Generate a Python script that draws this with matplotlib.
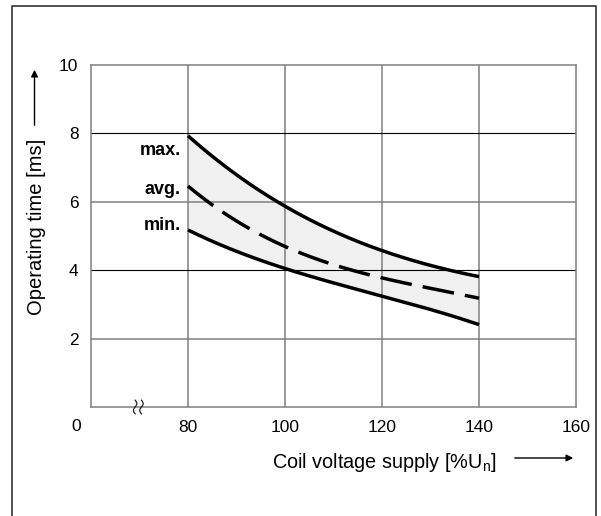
import matplotlib
matplotlib.use("Agg")
import matplotlib.pyplot as plt
import numpy as np
from matplotlib.lines import Line2D
import matplotlib.transforms as mtransforms

plt.rcParams['font.family'] = ['Liberation Sans', 'DejaVu Sans']
plt.rcParams['lines.scale_dashes'] = False

voltage = [80, 90, 100, 110, 120, 130, 140]
t_max = [7.91, 6.84, 5.86, 5.09, 4.60, 4.16, 3.80]
t_avg = [6.43, 5.52, 4.65, 4.11, 3.82, 3.48, 3.17]
t_min = [5.18, 4.54, 4.06, 3.63, 3.24, 2.85, 2.41]
x_ticks = [80, 100, 120, 140, 160]
y_ticks = [2, 4, 6, 8, 10]

W, H = 601, 516
fig = plt.figure(figsize=(W/100, H/100), dpi=100)
ax = fig.add_axes([91/W, 1-407/H, (576-91)/W, (407-65)/H])
ax.set_xlim(60, 160)
ax.set_ylim(0, 10)

# smooth curves through read points
def smooth(x, y, n=200):
    x = np.asarray(x, float); y = np.asarray(y, float)
    c = np.polyfit(x, y, 3)
    xs = np.linspace(x[0], x[-1], n)
    return xs, np.polyval(c, xs)

xs, ymax = smooth(voltage, t_max)
_, yavg = smooth(voltage, t_avg)
_, ymin = smooth(voltage, t_min)

ax.fill_between(xs, ymin, ymax, color='#f0f0f0', zorder=1, lw=0)

grey = '#808080'
for xv in x_ticks[:-1]:
    ax.axvline(xv, color=grey, lw=1.1, zorder=2)
for yv in [2, 6]:
    ax.axhline(yv, color=grey, lw=1.1, zorder=2)
for yv in [4, 8]:
    ax.axhline(yv, color='black', lw=0.8, zorder=2)

ax.plot(xs, ymax, color='black', lw=2.5, zorder=4, solid_capstyle='butt')
ax.plot(xs, ymin, color='black', lw=2.5, zorder=4, solid_capstyle='butt')
ax.plot(xs, yavg, color='black', lw=2.5, zorder=4, dashes=(23, 8), dash_capstyle='butt')

for sp in ax.spines.values():
    sp.set_color(grey)
    sp.set_linewidth(1.1)

ax.set_xticks(x_ticks)
ax.set_xticklabels([str(v) for v in x_ticks])
ax.set_yticks(y_ticks)
ax.set_yticklabels([str(v) for v in y_ticks])
ax.tick_params(length=0, labelsize=12.5, pad=9)

ax.text(-0.02, -0.035, '0', transform=ax.transAxes, ha='right', va='top', fontsize=12.5)

lab_kw = dict(ha='right', va='center', fontsize=13, fontweight='bold')
ax.text(78.5, 7.5, 'max.', **lab_kw)
ax.text(78.5, 6.37, 'avg.', **lab_kw)
ax.text(78.5, 5.32, 'min.', **lab_kw)

# axis break marks
tr = mtransforms.blended_transform_factory(ax.transData, ax.transAxes)
tt = np.linspace(-1, 1, 40)
for xb in [69.1, 70.4]:
    ax.plot(xb + 0.35*np.sin(tt*np.pi), tt*0.02, transform=tr, color='#222222', lw=0.9,
            clip_on=False, zorder=5)

# axis labels with arrows
fig.text(272/W, 1-462/H, 'Coil voltage supply [%U$_\\mathregular{n}$]', ha='left', va='center', fontsize=14.3)
fig.text(37/W, 1-227/H, 'Operating time [ms]', rotation=90, ha='center', va='center', fontsize=14.5)
fig.add_artist(matplotlib.patches.FancyArrowPatch((512/W, 1-458/H), (576/W, 1-458/H),
               transform=fig.transFigure, arrowstyle='-|>', mutation_scale=10, color='black', lw=1))
fig.add_artist(matplotlib.patches.FancyArrowPatch((34.5/W, 1-128/H), (34.5/W, 1-67/H),
               transform=fig.transFigure, arrowstyle='-|>', mutation_scale=10, color='black', lw=1))

# outer frame
fig.add_artist(Line2D([11.5/W, 11.5/W, 596/W, 596/W], [0, 1-6/H, 1-6/H, 0],
                      transform=fig.transFigure, color='#333333', lw=1.2))

fig.savefig('out.png', dpi=100)
